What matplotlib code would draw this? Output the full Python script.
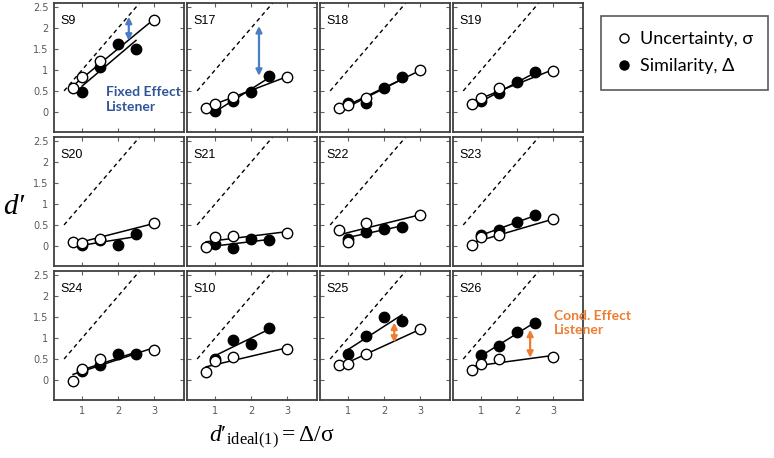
import numpy as np
import matplotlib
matplotlib.use('Agg')
import matplotlib.pyplot as plt
from matplotlib.lines import Line2D

plt.rcParams['mathtext.fontset'] = 'custom'
plt.rcParams['mathtext.rm'] = 'Liberation Serif'
plt.rcParams['mathtext.it'] = 'Liberation Serif:italic'

subjects = ['S9', 'S17', 'S18', 'S19',
            'S20', 'S21', 'S22', 'S23',
            'S24', 'S10', 'S25', 'S26']

# d'ideal(1) values of the two conditions
x_unc = [0.75, 1.0, 1.5, 3.0]
x_sim = [1.0, 1.5, 2.0, 2.5]

# uncertainty (open circles)
d_unc = [[0.56, 0.83, 1.21, 2.19],
         [0.10, 0.19, 0.35, 0.84],
         [0.09, 0.16, 0.33, 1.00],
         [0.18, 0.33, 0.58, 0.98],
         [0.09, 0.07, 0.17, 0.55],
         [-0.02, 0.21, 0.24, 0.31],
         [0.39, 0.09, 0.54, 0.73],
         [0.01, 0.20, 0.27, 0.63],
         [-0.02, 0.25, 0.51, 0.71],
         [0.18, 0.45, 0.55, 0.73],
         [0.36, 0.37, 0.63, 1.21],
         [0.24, 0.37, 0.51, 0.55]]

# similarity (filled circles)
d_sim = [[0.47, 1.06, 1.61, 1.50],
         [0.03, 0.26, 0.48, 0.86],
         [0.21, 0.21, 0.56, 0.82],
         [0.26, 0.46, 0.71, 0.94],
         [0.01, 0.15, 0.03, 0.28],
         [0.05, -0.06, 0.16, 0.15],
         [0.17, 0.33, 0.41, 0.45],
         [0.27, 0.39, 0.57, 0.73],
         [0.22, 0.36, 0.61, 0.61],
         [0.51, 0.96, 0.87, 1.24],
         [0.63, 1.04, 1.50, 1.40],
         [0.59, 0.81, 1.14, 1.37]]

# effect arrows: subject -> (x, y_low, y_high, colour)
blue = '#4A7EC4'
orange = '#ED7D31'
arrows = {'S9': (2.3, 1.70, 2.27, blue),
          'S17': (2.22, 0.86, 2.05, blue),
          'S25': (2.28, 0.89, 1.37, orange),
          'S26': (2.36, 0.53, 1.20, orange)}

yticks = [0, 0.5, 1, 1.5, 2, 2.5]
ytick_labels = ['0', '0.5', '1', '1.5', '2', '2.5']
xticks = [1, 2, 3]

fig, axes = plt.subplots(3, 4, figsize=(7.74, 4.58), dpi=100, sharex=True, sharey=True)
fig.subplots_adjust(left=54/774, right=583/774, top=1-3/458, bottom=1-400/458,
                    wspace=0.025, hspace=0.04)

for i, ax in enumerate(axes.flat):
    name = subjects[i]
    xu = np.array(x_unc)
    xs = np.array(x_sim)
    yu = np.array(d_unc[i])
    ys = np.array(d_sim[i])

    # ideal observer
    ax.plot([0.5, 2.6], [0.5, 2.6], color='black', ls=(0, (3, 2.5)), lw=1)

    # least-squares fits
    pu = np.polyfit(xu, yu, 1)
    ps = np.polyfit(xs, ys, 1)
    ax.plot([xu.min(), xu.max()], np.polyval(pu, [xu.min(), xu.max()]),
            color='black', lw=1.1, zorder=2)
    ax.plot([xs.min(), xs.max()], np.polyval(ps, [xs.min(), xs.max()]),
            color='black', lw=1.1, zorder=2)

    ax.plot(xs, ys, 'o', ms=7.5, mfc='black', mec='black', mew=1, zorder=3)
    ax.plot(xu, yu, 'o', ms=7.5, mfc='white', mec='black', mew=1, zorder=4)

    if name in arrows:
        ax_x, y0, y1, col = arrows[name]
        ax.annotate('', xy=(ax_x, y1), xytext=(ax_x, y0),
                    arrowprops=dict(arrowstyle='<|-|>', color=col, lw=1.6,
                                    mutation_scale=9, shrinkA=0, shrinkB=0),
                    zorder=5)

    ax.text(0.05, 0.91, name, transform=ax.transAxes, ha='left', va='top',
            fontsize=9, family='Liberation Sans')

    ax.set_xlim(0.22, 3.83)
    ax.set_ylim(-0.48, 2.6)
    ax.set_xticks(xticks)
    ax.set_yticks(yticks)
    ax.set_yticklabels(ytick_labels)
    ax.tick_params(direction='in', length=3, width=0.8, top=True, right=True,
                   labelsize=7, labelcolor='#595959', color='#606060', pad=4)
    for sp in ax.spines.values():
        sp.set_color('#404040')
        sp.set_linewidth(1.3)

axes[0, 0].text(1.67, 0.3, 'Fixed Effect\nListener', ha='left', va='center',
                fontsize=10, fontweight='bold', color='#2F5597',
                family='Lato', linespacing=1.25)
axes[2, 3].text(3.03, 1.36, 'Cond. Effect\nListener', ha='left', va='center',
                fontsize=10, fontweight='bold', color=orange,
                family='Lato', linespacing=1.25, clip_on=False)

fig.text(14/774, 1-207/458, 'd′', fontsize=21, ha='center', va='center',
         family='Liberation Serif', style='italic')
fig.text(272/774, 1-437/458, r"$d′_{\mathrm{ideal(1)}} = \Delta/\mathrm{\sigma}$",
         fontsize=17, ha='center', va='center')

handles = [Line2D([], [], ls='none', marker='o', ms=6.5, mfc='white', mec='black'),
           Line2D([], [], ls='none', marker='o', ms=6.5, mfc='black', mec='black')]
leg = fig.legend(handles, ['Uncertainty, σ', 'Similarity, Δ'],
                 loc='upper left', bbox_to_anchor=(601/774, 1-16/458),
                 frameon=True, fancybox=False, edgecolor='#303030',
                 prop={'family': 'Lato', 'size': 13}, handletextpad=0.5,
                 handlelength=0.8, borderpad=0.85, labelspacing=0.6,
                 borderaxespad=0)
leg.get_frame().set_linewidth(1.2)

fig.savefig('out.png', dpi=100)
